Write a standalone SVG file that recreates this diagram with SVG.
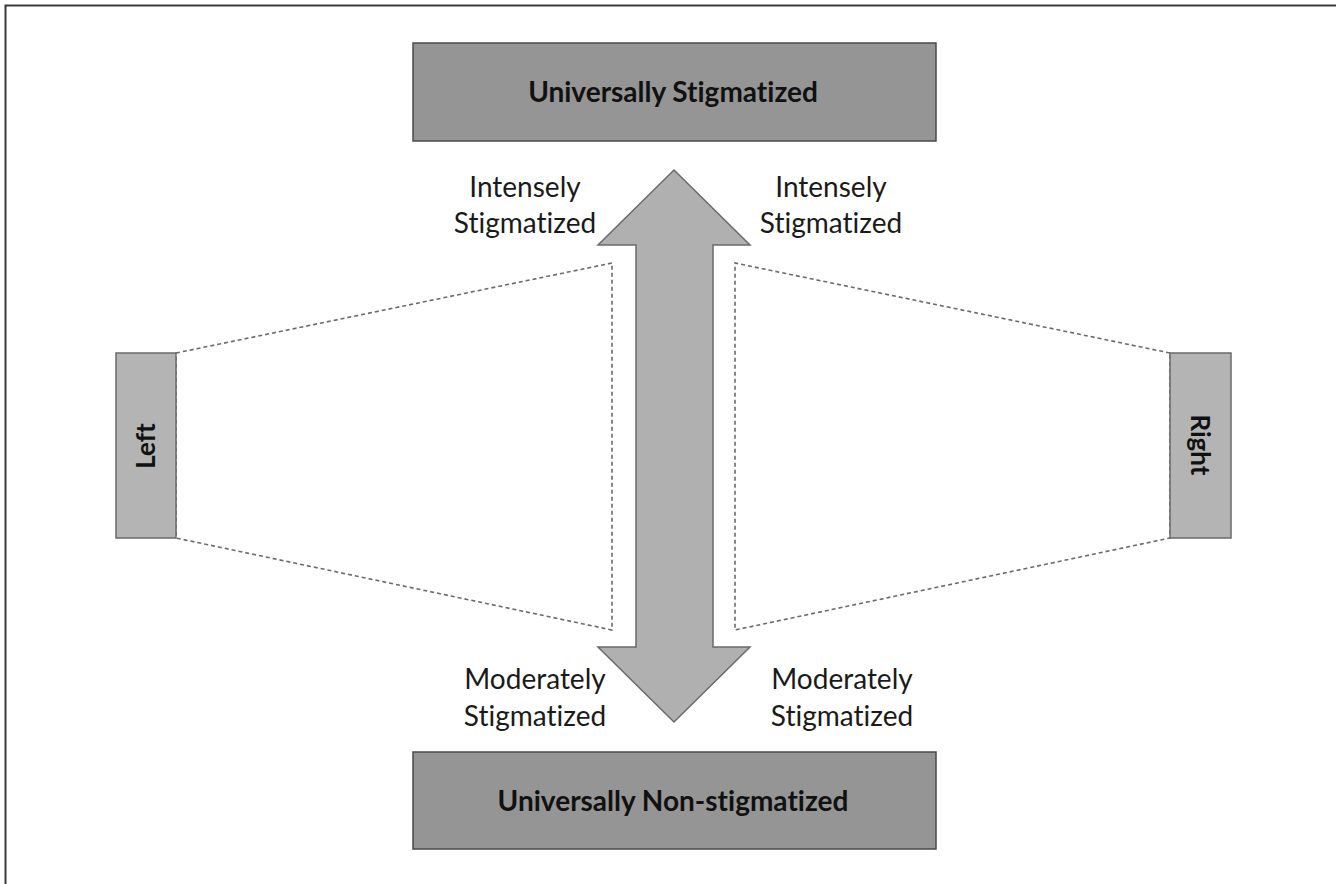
<svg xmlns="http://www.w3.org/2000/svg" width="1336" height="884" viewBox="0 0 1336 884">
<style>
text{font-variant-ligatures:none;font-feature-settings:"liga" 0,"clig" 0,"calt" 0,"dlig" 0}
.bg{fill:#ffffff}
.frame{fill:none;stroke:#3a3a3a;stroke-width:2}
.dark{fill:#959595;stroke:#4a4a4a;stroke-width:1.5}
.side{fill:#b4b4b4;stroke:#6a6a6a;stroke-width:1.5}
.arrow{fill:#b0b0b0;stroke:#6a6a6a;stroke-width:1.5;stroke-linejoin:miter}
.dash{fill:none;stroke:#6a6a6a;stroke-width:1.6;stroke-dasharray:4 3}
.title{font-family:Lato,"Open Sans","Liberation Sans",sans-serif;font-weight:bold;font-size:28px;fill:#111;text-anchor:middle}
.lab{font-family:Lato,"Open Sans","Liberation Sans",sans-serif;font-size:28px;fill:#1a1a1a;text-anchor:middle}
.sidet{font-family:Lato,"Open Sans","Liberation Sans",sans-serif;font-weight:bold;font-size:26px;fill:#111;text-anchor:middle}
</style>
<rect class="bg" x="0" y="0" width="1336" height="884"/>
<polyline class="frame" points="5.5,884 5.5,5.5 1336,5.5"/>
<g id="connectors">
<polygon class="dash" points="176,353 612,263 612,630 176,538"/>
<polygon class="dash" points="1170,353 735,263 735,630 1170,538"/>
</g>
<g id="arrow">
<polygon class="arrow" points="674,170 750,245 713,245 713,647 750,647 674,722 598,647 636,647 636,245 598,245"/>
</g>
<g id="universally-stigmatized">
<rect class="dark" x="413" y="43" width="523" height="98"/>
<text class="title" x="673" y="102">Universally Stigmatized</text>
</g>
<g id="universally-non-stigmatized">
<rect class="dark" x="413" y="752" width="523" height="97"/>
<text class="title" x="673" y="811">Universally Non-stigmatized</text>
</g>
<g id="left">
<rect class="side" x="116" y="353" width="60" height="185"/>
<text class="sidet" transform="translate(155,446) rotate(-90)" x="0" y="0">Left</text>
</g>
<g id="right">
<rect class="side" x="1170" y="353" width="61" height="185"/>
<text class="sidet" transform="translate(1191,445) rotate(90)" x="0" y="0">Right</text>
</g>
<g id="label-intensely-left">
<text class="lab" x="525" y="197">Intensely</text>
<text class="lab" x="525" y="233">Stigmatized</text>
</g>
<g id="label-intensely-right">
<text class="lab" x="831" y="197">Intensely</text>
<text class="lab" x="831" y="233">Stigmatized</text>
</g>
<g id="label-moderately-left">
<text class="lab" x="535" y="689">Moderately</text>
<text class="lab" x="535" y="726">Stigmatized</text>
</g>
<g id="label-moderately-right">
<text class="lab" x="842" y="689">Moderately</text>
<text class="lab" x="842" y="726">Stigmatized</text>
</g>
</svg>
